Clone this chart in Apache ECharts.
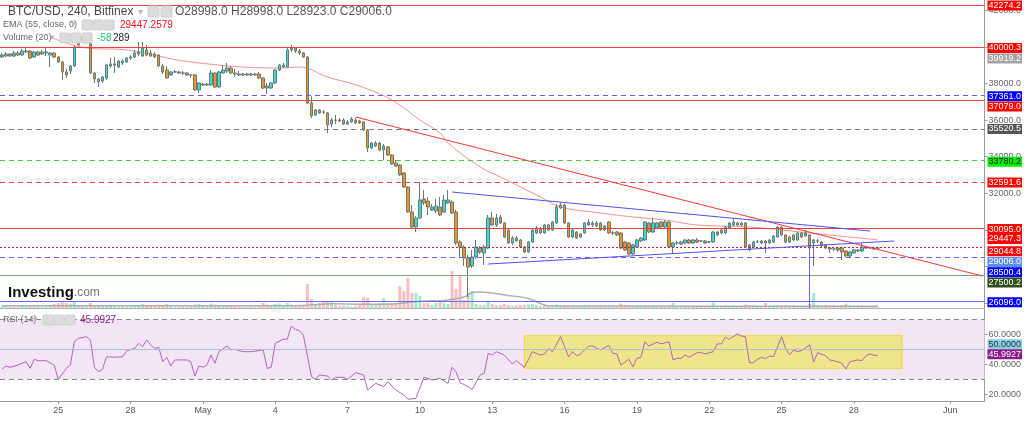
<!DOCTYPE html>
<html><head><meta charset="utf-8">
<script src="https://cdn.jsdelivr.net/npm/echarts@6/dist/echarts.min.js"></script>
<style>html,body{margin:0;padding:0;background:#fff}#c{width:1024px;height:423px}</style>
</head><body><div id="c"></div>
<script>
// ---------------- DATA ----------------
const startTime = Date.UTC(2021, 3, 22, 16);   // first 4h bar
const categoryCount = 245;
const tickDates = ['2021-04-25','2021-04-28','2021-05-01','2021-05-04','2021-05-07','2021-05-10','2021-05-13','2021-05-16','2021-05-19','2021-05-22','2021-05-25','2021-05-28','2021-06-01'];
const tickLabels = ['25','28','May','4','7','10','13','16','19','22','25','28','Jun'];

// [open, close, low, high]
const candles = [
[39453,39562,39398,39672],[39508,39617,39453,39727],[39617,39508,39453,39672],[39508,39672,39453,39781],[39672,39562,39508,39781],
[39562,39781,39508,39891],[39727,39781,39672,39945],[39781,39398,39344,39836],[39453,39727,39398,39781],[39727,39562,39508,39781],
[39617,39727,39562,39836],[39672,39727,39508,39945],[39562,39672,38906,39727],[39672,39453,39398,39727],[39453,39180,39125,39508],
[39180,38633,38195,39234],[38633,38468,38304,38797],[38687,38961,38523,39015],[38961,40000,38906,40109],[40109,40492,40055,40602],
[40492,40438,40328,40602],[40438,40547,40383,40766],[40492,38578,38523,40547],[38578,38250,38031,38633],[38086,38250,37812,38304],
[38140,38359,38031,38414],[38304,39015,38195,39070],[38961,39070,38851,39398],[39015,39070,38578,39453],[38906,39234,38851,39289],
[39125,39234,39015,39344],[39180,39398,39125,39453],[39398,39453,39289,39562],[39453,39672,39398,39836],[39617,39727,39508,40274],
[39508,39945,39453,40274],[39836,39562,39508,40109],[39672,39508,39453,39836],[39617,39453,39398,39727],[39562,38961,38906,39617],
[38961,38633,38523,39070],[38742,38304,38250,38961],[38468,38633,38414,38687],[38633,38640,38578,38742],[38633,38578,38523,38687],
[38578,38570,38468,38687],[38578,38468,38414,38633],[38468,38475,38304,38523],[38468,37648,37593,38523],[37648,38031,37484,38086],
[37976,37921,37867,38031],[37921,37976,37867,38031],[37921,38578,37867,38742],[38578,37812,37757,38633],[37812,38633,37757,38687],
[38578,38742,38523,39015],[38687,38851,38578,39125],[38851,38578,38523,38961],[38578,38523,38359,38797],[38523,38468,38414,38687],
[38523,38468,38414,38578],[38468,38523,38414,38578],[38468,38523,38414,38578],[38523,38475,38414,38578],[38523,38304,38250,38633],
[38304,37757,37703,38359],[37867,37757,37429,38031],[37757,38031,37703,38086],[38031,38742,37976,38797],[38742,39015,38687,39070],
[38906,39015,38851,39125],[38906,39836,38851,39945],[39836,39945,39727,40109],[39945,39781,39672,40000],[39781,39672,39562,39891],
[39672,39453,39398,39727],[39453,36937,36882,39508],[36937,36226,36116,37320],[36280,36554,36226,36609],[36554,36390,36335,36609],
[36445,36440,36335,36554],[36390,35733,35296,36445],[35788,36007,35624,36116],[36007,36000,35788,36280],[36007,35952,35898,36116],
[36007,35788,35733,36116],[35788,35898,35733,36007],[35898,36062,35843,36171],[36007,35843,35788,36116],[35952,35843,35788,36007],
[35898,35460,35405,35952],[35460,34475,34257,35515],[34475,34749,34421,34804],[34585,34749,34530,34858],[34749,34366,34311,34804],
[34366,34585,33819,34694],[34530,34093,34038,34585],[34093,33600,33546,34147],[33655,33491,33436,33819],[33546,33000,32944,33600],
[33108,32342,32287,33163],[32342,30975,30920,32397],[30975,30154,30099,31357],[30154,30646,29881,30756],[30646,31631,30592,32615],
[31686,31467,31357,32178],[31576,31248,30810,31795],[31084,31248,31029,31412],[31029,31303,30920,31686],[31248,30810,30756,31795],
[30975,31631,30920,31904],[31467,31631,31412,32178],[31522,30920,30865,31631],[30975,29279,29170,31084],[29334,29060,28458,29443],
[29060,28458,28020,29170],[28458,27966,26325,28622],[28021,28513,27911,28896],[28513,29060,28404,29443],[29005,28787,28677,29115],
[28732,29060,28075,29170],[29005,30646,28951,30810],[30646,30263,30209,30975],[30263,30646,30154,30865],[30701,30373,30318,30810],
[30373,29607,29552,30428],[29990,29279,29224,30045],[29279,29552,29170,29662],[29552,29388,29334,29662],[29443,29060,29005,29498],
[29060,28787,28732,29115],[28787,29334,28732,29388],[29334,29990,29279,30045],[29826,30099,29771,30209],[30099,29826,29771,30154],
[29826,30263,29771,30318],[30263,29990,29935,30318],[29990,30428,29935,30482],[30373,31248,30318,31412],[31193,31357,31139,31467],
[31357,30373,30318,31412],[30373,29607,29552,30428],[29607,29990,29552,30045],[29881,29552,29498,29935],[29607,29771,29552,29826],
[29826,30373,29771,30428],[30263,30428,30209,30592],[30373,30263,30154,30482],[30209,30373,30154,30482],[30373,29990,29935,30428],
[29990,30209,29935,30263],[30428,29826,29771,30482],[29826,29830,29716,29935],[29881,29716,29662,29935],[29826,29005,28951,29881],
[29334,28896,28841,29388],[29279,28677,28622,29334],[28677,29170,28622,29224],[29060,29443,29005,29498],[29388,29552,29334,29607],
[29443,30428,29388,30482],[30373,29881,29826,30428],[29881,30373,29826,30646],[30099,30373,30045,30428],[30428,30154,30099,30482],
[30154,30428,30099,30537],[30428,29060,29005,30482],[29060,29279,28732,29334],[29279,29285,29170,29388],[29224,29334,29170,29388],
[29279,29443,29224,29498],[29443,29279,29224,29498],[29279,29443,29224,29498],[29443,29334,29279,29552],[29388,29395,29334,29443],
[29388,29279,29224,29443],[29334,29340,29279,29388],[29334,29881,29279,29935],[29716,29881,29662,29935],[29990,29826,29771,30045],
[29826,30154,29771,30209],[30099,30373,30045,30428],[30263,30428,30209,30646],[30373,30263,30209,30428],[30263,30373,30209,30428],
[30373,29060,29005,30428],[29170,28896,28841,29224],[29060,29334,29005,29388],[29334,29340,29279,29443],[29279,29388,29224,29443],
[29388,29279,28732,29443],[29279,29443,29224,29498],[29334,29662,29279,29716],[29607,30154,29552,30209],[30154,29716,29662,30209],
[29716,29334,29279,29771],[29334,29607,29279,29662],[29716,29443,29388,29771],[29443,29826,29388,29881],[29826,29607,29552,29881],
[29662,29826,29607,29990],[29716,29005,27802,29771],[29279,29443,28021,29498],[29388,29395,29279,29498],[29334,29115,29060,29388],
[29170,29005,28951,29224],[29005,28951,28732,29060],[28951,28955,28841,29060],[29005,28896,28787,29060],[29005,28787,28348,29060],
[28841,28567,28513,28896],[28567,28787,28513,28841],[28732,28896,28677,28951],[28896,28841,28787,28951],[28841,29060,28787,29279],
[29060,29005,28951,29115],[29005,29010,28951,29060],[29005,28960,28896,29060],[28998,29006,28923,29006]
];

const volumes = [
200,150,100,150,100,200,150,250,200,150,
100,150,300,400,500,600,500,400,600,300,
200,150,500,300,250,200,300,200,200,150,
200,150,100,250,300,400,300,250,200,350,
300,400,200,100,100,150,100,150,350,400,
200,150,450,350,300,200,250,200,250,150,
100,100,150,100,200,500,350,300,400,450,
300,500,350,250,200,300,2400,900,400,500,
700,700,700,300,200,250,200,150,200,300,
1100,1000,400,300,500,1000,500,400,400,2200,
1700,3000,1500,1500,1200,500,500,300,500,600,
500,400,3700,1900,3200,800,1500,1700,400,300,
300,600,400,300,300,400,300,200,250,300,
300,350,400,300,200,300,250,300,350,250,
300,250,200,250,200,300,200,150,200,250,
200,250,150,200,450,300,250,200,250,200,
300,200,250,150,200,150,300,500,200,150,
150,200,150,200,100,150,100,550,250,200,
250,200,250,150,200,350,300,250,200,150,
500,200,250,300,250,300,200,250,200,150,
200,400,1500,300,250,300,200,250,200,300,
450,250,200,150,250,150,100,150,100
];

// [bar index, value]
const volumeMA = [[0,220],[30,230],[60,230],[75,260],[82,420],[90,380],[98,430],[105,700],[110,750],[115,1100],[117,1550],[119,1600],[126,1250],[131,950],[136,220],[150,190],[218,180]];

const ema55 = [[12,40547],[21,39945],[31,39836],[47,39180],[69,38851],[74,38906],[81,38359],[89,37860],[97,37101],[104,36007],[109,35296],[111,34749],[119,33436],[124,32889],[134,31795],[139,31248],[149,30920],[157,30701],[165,30537],[173,30263],[186,30154],[201,29826],[218,29447.26]];

const rsi14 = [[0,36.7],[1,38.9],[2,38],[4,39.5],[6,41.7],[7,37.3],[8,43.3],[9,42.4],[11,42.4],[13,39.5],[14,30],[16,37.3],[17,39.5],[18,55],[19,57.3],[21,58.4],[22,56.2],[23,38],[24,35],[25,36.7],[26,45],[28,44.7],[30,45],[31,49],[33,50.6],[34,54],[35,51.8],[36,56.2],[37,52.9],[38,50.6],[39,51.3],[40,41.7],[41,44.7],[42,38.9],[43,42.9],[46,42.9],[47,41.7],[48,32.2],[49,38.9],[50,38],[51,39.5],[52,46.2],[53,40.7],[54,48.4],[56,52.2],[57,49.6],[58,50],[60,48.4],[62,48.4],[65,49.6],[66,37.3],[67,38],[68,54],[70,56.7],[71,56.7],[72,65.5],[73,63.3],[74,62.4],[75,59.5],[77,31.8],[78,30],[79,32.9],[81,32.2],[82,29.5],[83,31.3],[85,31.3],[86,30],[88,34.4],[90,32.9],[91,22.9],[93,27.3],[95,25.1],[96,28.4],[97,25.5],[98,22.9],[100,19.5],[101,16.7],[103,17.3],[105,31.3],[106,30.6],[107,29.5],[109,30.6],[111,27.3],[112,38],[113,35],[114,27.8],[116,25.1],[117,23.3],[119,32.9],[120,34],[121,47.3],[122,46.2],[123,48.4],[125,46.2],[127,40.2],[128,42.4],[130,38],[132,48.4],[134,46.2],[135,46.9],[136,50.6],[137,48.4],[139,58.4],[140,51.8],[141,45],[142,48.4],[143,45.6],[144,46.9],[146,52.2],[147,52.2],[148,50.6],[149,49.6],[151,52.7],[152,47.3],[153,46.9],[154,39.5],[156,43.3],[157,38.4],[158,44],[159,44.7],[160,55],[161,52.2],[163,54.7],[164,53.6],[166,55],[167,42.9],[168,44],[169,44],[170,46.2],[171,44.7],[173,47.8],[174,47.8],[175,46.9],[177,48.4],[178,53.6],[179,53.6],[180,58],[181,56.7],[183,60.2],[184,58.9],[185,58.4],[186,41.1],[187,41.1],[188,43.3],[189,44.7],[190,43.8],[191,45.6],[192,45],[194,58.4],[195,50.6],[196,46.2],[197,49.6],[198,48.4],[199,49.1],[201,52.9],[202,41.7],[203,47.8],[205,45.6],[206,42.9],[208,41.7],[209,40.7],[210,36.7],[211,41.7],[213,42.9],[214,42.4],[215,45.6],[216,46.9],[217,46],[218,45.9927]];

const priceTicks = [26000,28000,30000,32000,34000,36000,38000,40000,42000];
const rsiTicks = [20,40,60];
const priceLevels = [42274.2,40000.3,39919.2,37361.0,37079.0,35520.5,33780.2,32591.6,30095.0,29447.3,29044.8,29006.0,28500.4,27500.2,26096.0];
const rsiLevels = [70,50,30];
const rsiLast = 45.9927;
const trendRed = [[88,36171],[244,27474]];
const trendBlueUpper = [[112,32068],[216,29935]];
const trendBlueLower = [[121,28129],[222,29388]];
const verticalMarker = [[201,29060],[201,25723]];
const rsiBox = [[130,59.1],[224,37.3]];
const header = {symbol:'BTC/USD, 240, Bitfinex', open:28998.0, high:28998.0, low:28923.0, close:29006.0, ema:29447.2579, volDelta:-58, vol:289};

// ---------------- STYLES ----------------
const levelStyles = [
 {line:'#ff3b3b', type:'solid', bg:'#ff0000', fg:'#fff', dy:0},
 {line:'#ff3b3b', type:'solid', bg:'#ff0000', fg:'#fff', dy:1},
 {line:null, bg:'#a3a3a3', fg:'#fff', dy:10},
 {line:'#5c5cff', type:[5,4], bg:'#0000ff', fg:'#fff', dy:1},
 {line:'#ff3b3b', type:'solid', bg:'#ff0000', fg:'#fff', dy:6},
 {line:'#7a7a7a', type:[5,4], bg:'#555555', fg:'#fff', dy:0},
 {line:'#3fcf3f', type:[5,4], bg:'#00f000', fg:'#222', dy:1},
 {line:'#ff3b3b', type:[5,4], bg:'#ff0000', fg:'#fff', dy:0},
 {line:'#ff3b3b', type:'solid', bg:'#ff0000', fg:'#fff', dy:1},
 {line:null, bg:'#ff0000', fg:'#fff', dy:-1},
 {line:'#d0184a', type:[2,2], bg:'#ff0000', fg:'#fff', dy:4},
 {line:null, bg:'#5b8ff0', fg:'#fff', dy:14},
 {line:'#6262ff', type:[5,4], bg:'#0000ff', fg:'#fff', dy:15},
 {line:'#8aa47e', type:'solid', bg:'#2f4f1f', fg:'#fff', dy:7},
 {line:'#6a6aff', type:'solid', bg:'#0000ff', fg:'#fff', dy:1}
];
const FONT = "'Liberation Sans', Arial, sans-serif";
const NARROW = "'Liberation Sans Narrow', 'Arial Narrow', 'Liberation Sans', sans-serif";

const categories = [];
for (let k = 0; k < categoryCount; k++) {
  const d = new Date(startTime + k * 4 * 3600 * 1000);
  categories.push(d.toISOString().slice(0, 13).replace('T', ' '));
}
const tickMap = {};
tickDates.forEach((d, j) => { tickMap[d + ' 00'] = tickLabels[j]; });
const tickFn = (idx, val) => Object.prototype.hasOwnProperty.call(tickMap, val);

const tag = (bg, fg, dy, fmt) => ({
  show: true, position: 'end', distance: 3, formatter: fmt, opacity: 1,
  backgroundColor: bg, color: fg, fontSize: 9, fontFamily: FONT,
  padding: [1, 1, 0, 1], offset: [0, dy]
});
const HIDDEN_LINE = {color: 'rgba(0,0,0,0)', width: 0.01, opacity: 1};

const priceMarks = priceLevels.map((v, i) => {
  const s = levelStyles[i];
  return {
    yAxis: v,
    lineStyle: s.line ? {color: s.line, type: s.type, width: 1, opacity: 1} : HIDDEN_LINE,
    label: tag(s.bg, s.fg, s.dy, p => Number(p.value).toFixed(1))
  };
});
const seg = (pts, color) => [
  {coord: pts[0], lineStyle: {color: color, width: 1, type: 'solid'}, label: {show: false}},
  {coord: pts[1]}
];
priceMarks.push(seg(trendRed, '#f03838'));
priceMarks.push(seg(trendBlueUpper, '#5050ee'));
priceMarks.push(seg(trendBlueLower, '#5050ee'));
priceMarks.push(seg(verticalMarker, '#6a6af0'));

const upColor = '#35dcd6', downColor = '#f6921e';
const volData = volumes.map((v, i) => ({
  value: v,
  itemStyle: {color: candles[i][1] >= candles[i][0] ? 'rgba(80,222,160,0.55)' : 'rgba(246,140,140,0.55)'}
}));

const rsiMarks = [
  {yAxis: rsiLevels[0], lineStyle: {color: '#8a8a8a', type: [5, 4], width: 1}, label: {show: false}},
  {yAxis: rsiLevels[1], lineStyle: {color: '#a9c2d8', type: 'solid', width: 1},
   label: tag('#86cfe4', '#333', -5, p => Number(p.value).toFixed(4))},
  {yAxis: rsiLevels[2], lineStyle: {color: '#8a8a8a', type: [5, 4], width: 1}, label: {show: false}},
  {yAxis: rsiLast, lineStyle: HIDDEN_LINE, label: tag('#8b1a8b', '#fff', -1, p => Number(p.value).toFixed(4))}
];

const txt = (x, y, text, font, fill) => ({type: 'text', x: x, y: y, z: 100, style: {text: text, font: font, fill: fill, verticalAlign: 'middle'}});
const box = (x, y, s) => ({type: 'rect', z: 100, shape: {x: x, y: y, width: s, height: s, r: 1}, style: {fill: '#dcdcdc', stroke: '#cfcfcf'}});

const graphics = [
  txt(8, 12, header.symbol, '12px ' + FONT, '#444'),
  txt(138, 12, '▾', '10px ' + FONT, '#bbb'),
  box(148, 6, 11), box(161, 6, 11),
  txt(175, 12, 'O' + header.open.toFixed(1) + ' H' + header.high.toFixed(1) + ' L' + header.low.toFixed(1) + ' C' + header.close.toFixed(1), '12px ' + FONT, '#555'),
  txt(3, 25, 'EMA (55, close, 0)', '9px ' + NARROW, '#666'),
  txt(71, 25, '▾', '9px ' + FONT, '#bbb'),
  box(82, 20, 10), box(93, 20, 10), box(104, 20, 10),
  txt(120, 25, header.ema.toFixed(4), '10px ' + FONT, '#e8121f'),
  txt(3, 38, 'Volume (20)', '9px ' + NARROW, '#666'),
  txt(50, 38, '▾', '9px ' + FONT, '#bbb'),
  box(60, 33, 10), box(71, 33, 10), box(82, 33, 10),
  txt(97, 38, String(header.volDelta), '10px ' + FONT, '#1fbf6a'),
  txt(113, 38, String(header.vol), '10px ' + FONT, '#222'),
  txt(3, 320, 'RSI (14)', '9px ' + NARROW, '#666'),
  txt(33, 320, '▾', '9px ' + FONT, '#bbb'),
  box(43, 315, 10), box(54, 315, 10), box(65, 315, 10),
  txt(80, 320, rsiLast.toFixed(4), '10px ' + FONT, '#8b1a8b'),
  {type: 'text', x: 8, y: 293, z: 100, style: {text: '{a|Investing}{b|.com}', verticalAlign: 'middle',
    rich: {a: {font: 'bold 15px ' + FONT, fill: '#111'}, b: {font: '12px ' + FONT, fill: '#777'}}}}
];

const option = {
  animation: false,
  grid: [
    {left: 0, right: 38, top: 0, height: 308},
    {left: 0, right: 38, top: 309, height: 92}
  ],
  xAxis: [
    {type: 'category', data: categories, gridIndex: 0, boundaryGap: true,
     axisLine: {show: true, lineStyle: {color: '#b4b4b4'}}, axisTick: {show: false}, axisLabel: {show: false}, splitLine: {show: false}},
    {type: 'category', data: categories, gridIndex: 1, boundaryGap: true,
     axisLine: {show: true, lineStyle: {color: '#9a9a9a'}},
     axisTick: {show: true, interval: tickFn, alignWithLabel: true, length: 3, lineStyle: {color: '#9a9a9a'}},
     axisLabel: {interval: tickFn, formatter: v => tickMap[v], fontSize: 9, fontFamily: NARROW, color: '#555', margin: 5},
     splitLine: {show: false}}
  ],
  yAxis: [
    {type: 'value', gridIndex: 0, position: 'right', min: 25723, max: 42571, scale: true,
     axisLine: {show: true, lineStyle: {color: '#9a9a9a'}},
     axisTick: {show: true, customValues: priceTicks, length: 3, lineStyle: {color: '#9a9a9a'}},
     axisLabel: {customValues: priceTicks, formatter: v => Number(v).toFixed(1), fontSize: 9, fontFamily: FONT, color: '#666', margin: 4},
     splitLine: {show: false}},
    {type: 'value', gridIndex: 0, min: 0, max: 30800, show: false, splitLine: {show: false}},
    {type: 'value', gridIndex: 1, position: 'right', min: 15.53, max: 76.87,
     axisLine: {show: true, lineStyle: {color: '#9a9a9a'}},
     axisTick: {show: true, customValues: rsiTicks, length: 3, lineStyle: {color: '#9a9a9a'}},
     axisLabel: {customValues: rsiTicks, formatter: v => Number(v).toFixed(4), fontSize: 9, fontFamily: FONT, color: '#666', margin: 4},
     splitLine: {show: false}}
  ],
  series: [
    {name: 'Volume', type: 'bar', xAxisIndex: 0, yAxisIndex: 1, data: volData, barWidth: 3, z: 1, silent: true},
    {name: 'VolMA', type: 'line', xAxisIndex: 0, yAxisIndex: 1, data: volumeMA, symbol: 'none', smooth: 0.3,
     lineStyle: {color: '#b0b0b0', width: 1.5}, z: 2, silent: true},
    {name: 'EMA', type: 'line', xAxisIndex: 0, yAxisIndex: 0, data: ema55, symbol: 'none', smooth: 0.4,
     lineStyle: {color: 'rgba(242,110,110,0.75)', width: 1}, z: 3, silent: true},
    {name: 'BTC', type: 'candlestick', xAxisIndex: 0, yAxisIndex: 0, data: candles, barWidth: 3, clip: false, z: 4,
     itemStyle: {color: upColor, color0: downColor, borderColor: '#6a7a78', borderColor0: '#6a7a78', borderWidth: 1},
     markLine: {silent: true, symbol: ['none', 'none'], precision: 1, animation: false, data: priceMarks}},
    {name: 'RSI', type: 'line', xAxisIndex: 1, yAxisIndex: 2, data: rsi14, symbol: 'none', clip: false,
     lineStyle: {color: '#b563c2', width: 1}, z: 4,
     markArea: {silent: true, data: [
       [{yAxis: rsiLevels[0], itemStyle: {color: '#f3e6f4'}}, {yAxis: rsiLevels[2]}],
       [{coord: rsiBox[0], itemStyle: {color: '#efe58a', borderColor: '#f2da3a', borderWidth: 1}}, {coord: rsiBox[1]}]
     ]},
     markLine: {silent: true, symbol: ['none', 'none'], precision: 4, animation: false, data: rsiMarks}}
  ],
  graphic: {elements: graphics}
};

const chart = echarts.init(document.getElementById('c'), null, {renderer: 'canvas'});
chart.setOption(option);
</script>
</body></html>
